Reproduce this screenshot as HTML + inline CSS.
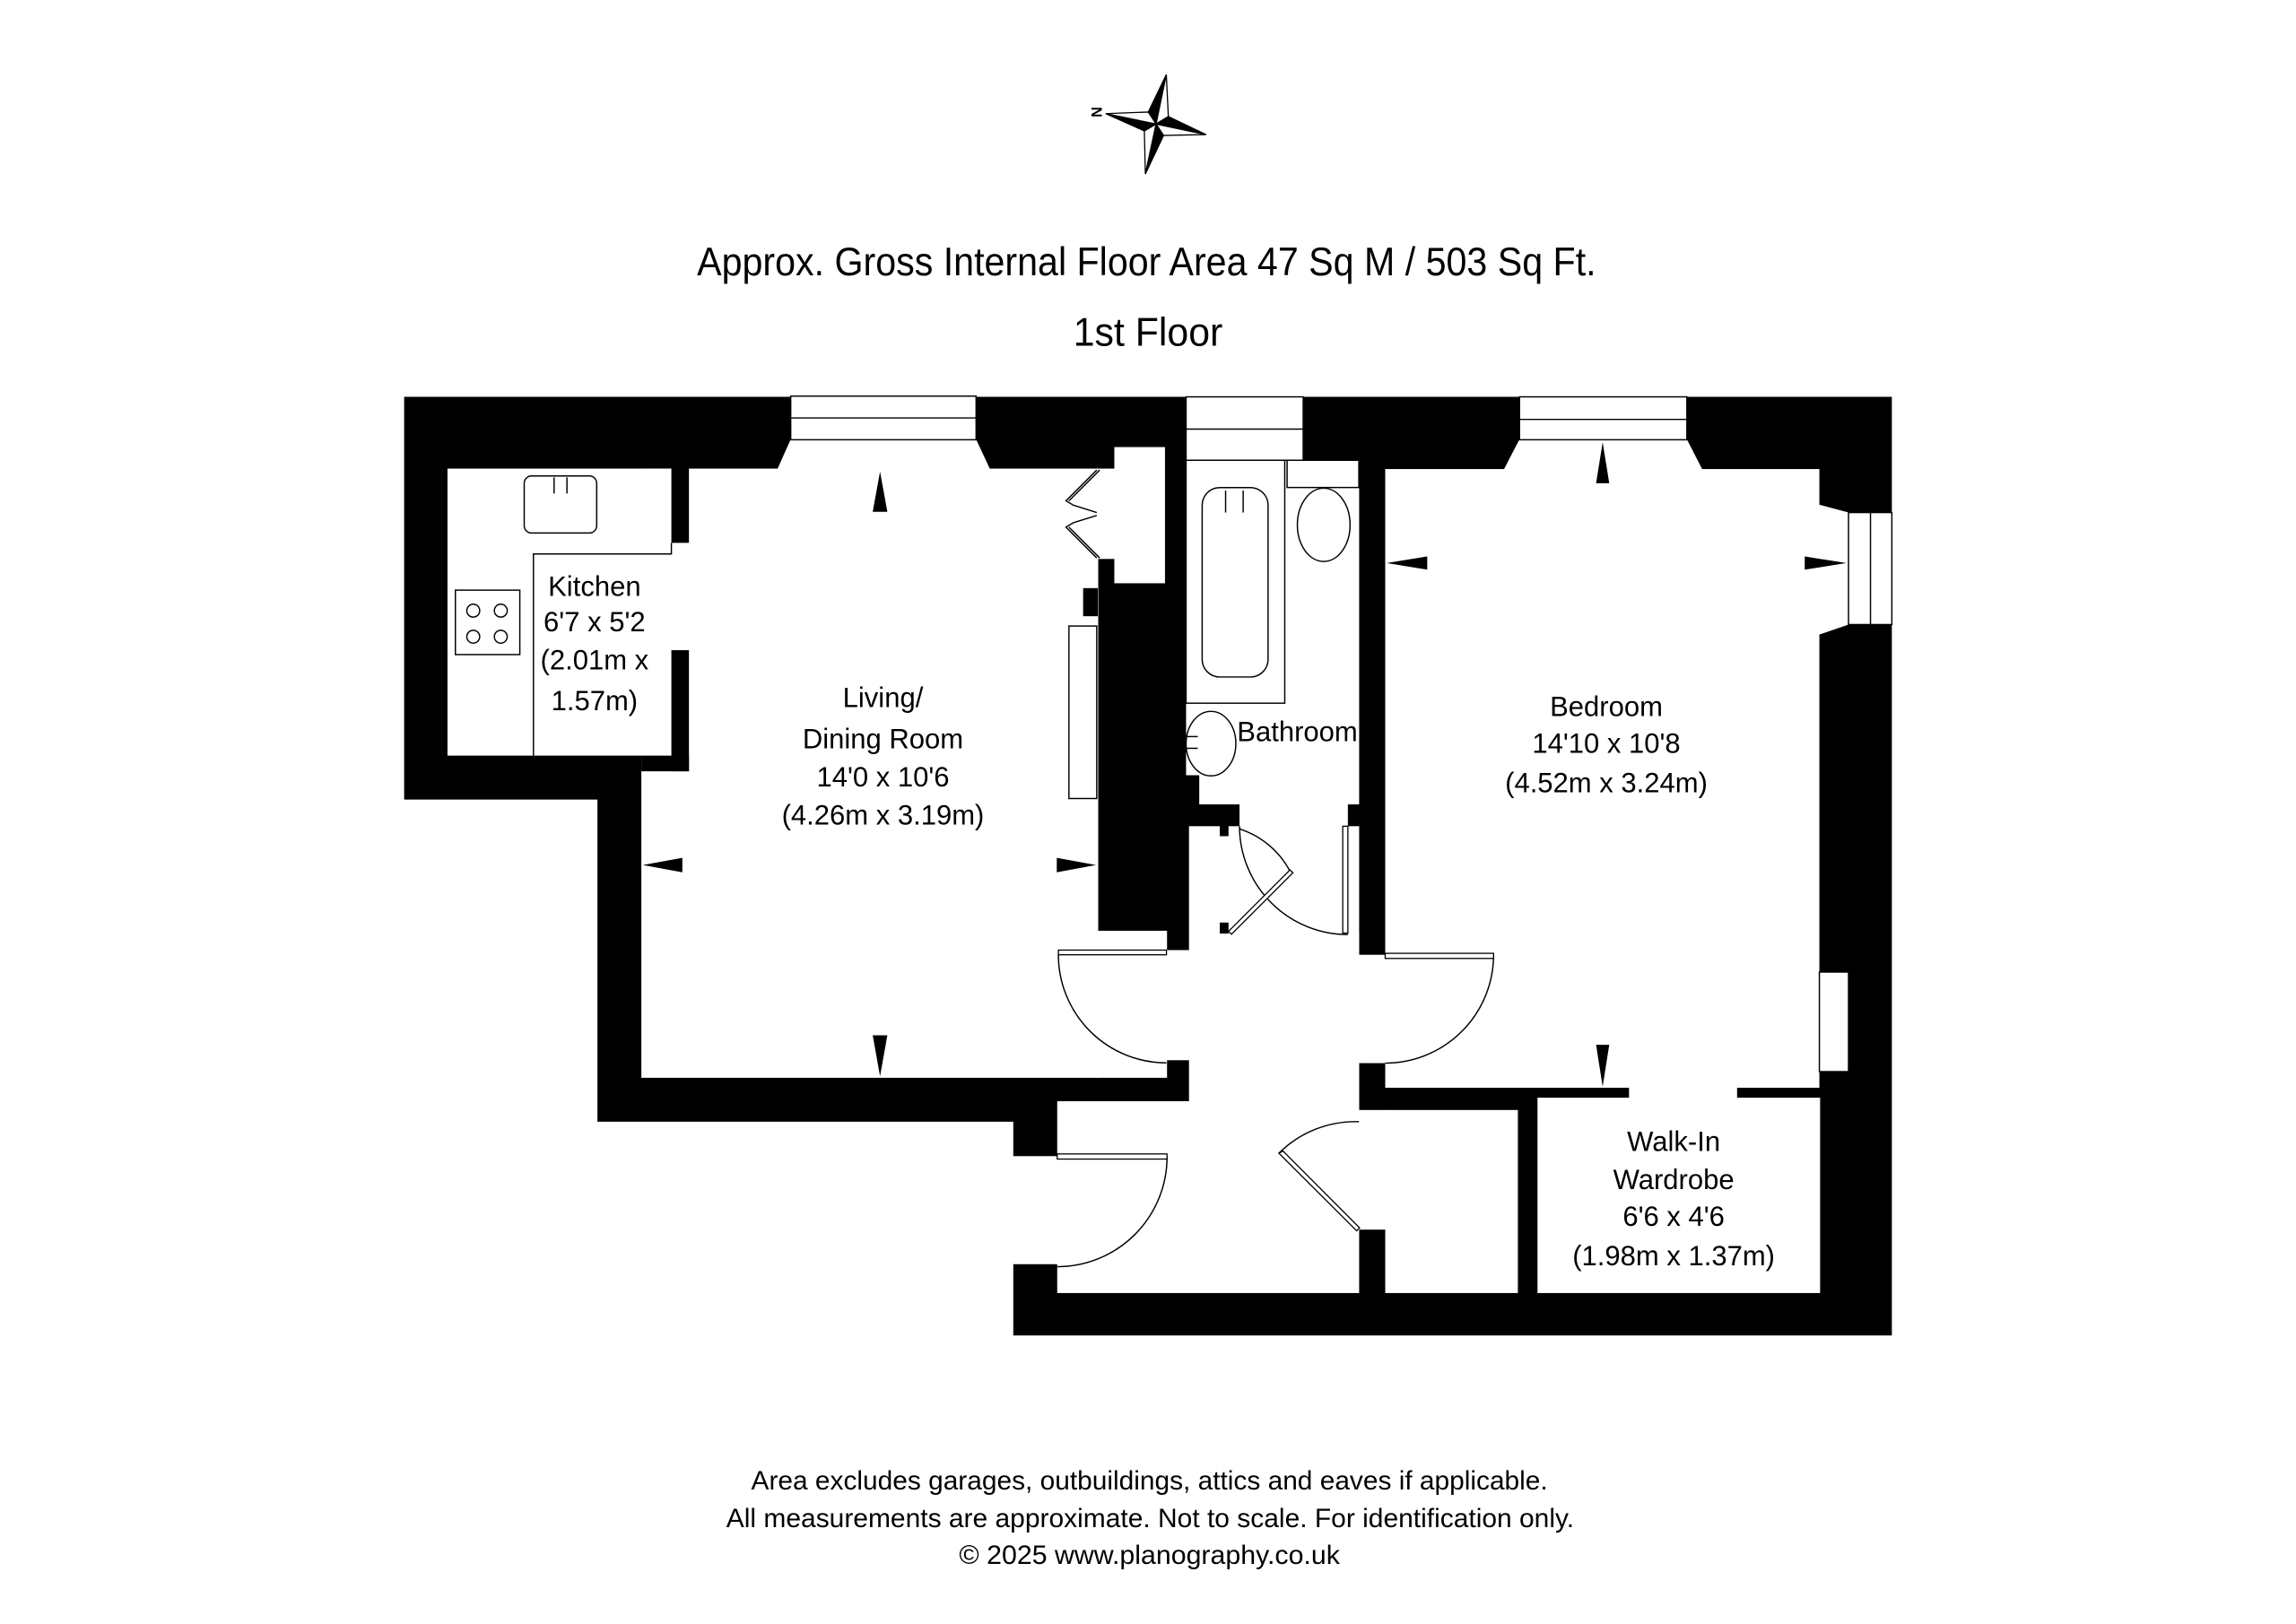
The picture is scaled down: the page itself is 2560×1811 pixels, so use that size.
<!DOCTYPE html>
<html><head><meta charset="utf-8"><style>
html,body{margin:0;padding:0;background:#fff;}
svg{display:block;}
text{font-family:"Liberation Sans Narrow","Liberation Sans",sans-serif;fill:#000;}
</style></head><body>
<svg width="2560" height="1811" viewBox="0 0 1568 1109" preserveAspectRatio="none" xmlns="http://www.w3.org/2000/svg">
<rect width="1568" height="1109" fill="#fff"/>
<g stroke="#000" stroke-width="0.8" stroke-linejoin="miter">
<polygon points="789.5,84.7 796.5,51 784.2,76.5" fill="#000"/>
<polygon points="789.5,84.7 796.5,51 797.9,79.6" fill="#fff"/>
<polygon points="789.5,84.7 823.6,91.9 797.9,79.6" fill="#000"/>
<polygon points="789.5,84.7 823.6,91.9 794.6,92.5" fill="#fff"/>
<polygon points="789.5,84.7 782.2,118.8 794.6,92.5" fill="#000"/>
<polygon points="789.5,84.7 782.2,118.8 781.5,89.4" fill="#fff"/>
<polygon points="789.5,84.7 755.2,77.6 781.5,89.4" fill="#000"/>
<polygon points="789.5,84.7 755.2,77.6 784.2,76.5" fill="#fff"/>
</g>
<text x="749" y="76.5" font-size="10" font-weight="bold" text-anchor="middle" transform="rotate(-90 749 76.5) translate(0 3.5)">N</text>

<text x="476" y="188" font-size="27" textLength="614" lengthAdjust="spacingAndGlyphs">Approx. Gross Internal Floor Area 47 Sq M / 503 Sq Ft.</text>
<text x="733" y="236" font-size="27" textLength="102" lengthAdjust="spacingAndGlyphs">1st Floor</text>

<polygon points="276,271 1292,271 1292,912 692,912 692,766 408,766 408,546 276,546" fill="#000"/>
<g fill="#fff">
<rect x="305.6" y="320" width="164.9" height="196"/>
<rect x="438" y="320" width="312" height="416"/>
<rect x="748.5" y="320" width="13.5" height="61.7"/>
<rect x="761" y="305.3" width="34.6" height="93"/>
<rect x="748.5" y="635.6" width="48.5" height="100.4"/>
<rect x="796" y="648.8" width="17" height="75.2"/>
<rect x="839" y="564.2" width="89.2" height="194"/>
<rect x="812" y="637" width="116.2" height="121"/>
<rect x="722" y="752" width="206.2" height="131"/>
<rect x="690.5" y="789.5" width="32" height="73.8"/>
<rect x="927.5" y="652" width="19" height="74"/>
<rect x="927.5" y="758" width="19" height="81.7"/>
<rect x="810" y="314.3" width="118.2" height="235"/>
<rect x="846.5" y="548" width="74" height="17"/>
<rect x="812" y="564.2" width="27.5" height="73"/>
<rect x="946" y="320.3" width="296.5" height="422.5"/>
<rect x="1112.5" y="742" width="73.8" height="8"/>
<rect x="946" y="758" width="90.6" height="125"/>
<rect x="1050" y="749.6" width="193" height="133.4"/>
<polygon points="540,300 666.6,300 676.4,321 530.6,321"/>
<polygon points="1037.7,300 1152,300 1162.8,321 1026.8,321"/>
<polygon points="1242,344.5 1262.4,350 1262.4,426.5 1242,433.5"/>
</g>
<g fill="#000">
<rect x="458.5" y="319" width="12" height="51.7"/>
<rect x="458.5" y="444" width="12" height="82.7"/>
<rect x="438" y="516" width="32.5" height="10.7"/>
<rect x="739.7" y="401.6" width="10" height="19.2"/>
<rect x="809" y="529.4" width="10" height="20"/>
<rect x="833" y="564" width="6" height="7"/>
<rect x="833" y="630" width="6" height="7.5"/>
</g>
<g fill="#fff" stroke="#000" stroke-width="0.9">
<rect x="540" y="270.5" width="126.6" height="29.8"/>
<rect x="1037.7" y="271" width="114.3" height="29.3"/>
<rect x="810" y="271" width="80" height="43.3"/>
<rect x="1262.4" y="350" width="29.6" height="76.5"/>
<rect x="1242.5" y="663.8" width="19.9" height="68"/>
<rect x="730" y="427.5" width="19" height="117.8"/>
</g>
<g stroke="#000" stroke-width="0.9" fill="none">
<line x1="540" y1="285.4" x2="666.6" y2="285.4"/>
<line x1="1037.7" y1="286.4" x2="1152" y2="286.4"/>
<line x1="810" y1="293" x2="890" y2="293"/>
<line x1="1277.4" y1="350" x2="1277.4" y2="426.5"/>
<polyline points="458.5,370.7 458.5,378.3 364.3,378.3 364.3,516"/>
<rect x="358" y="325" width="49.5" height="39" rx="5"/>
<line x1="378.4" y1="326" x2="378.4" y2="337"/>
<line x1="387.2" y1="326" x2="387.2" y2="337"/>
<rect x="311" y="403" width="44" height="44"/>
<circle cx="323.2" cy="417" r="4.4"/><circle cx="342" cy="417" r="4.4"/>
<circle cx="323.2" cy="434.8" r="4.4"/><circle cx="342" cy="434.8" r="4.4"/>
<polyline points="749,321 728,342 733,345 749,350"/>
<polyline points="749,352 733,357 728,360 749,381"/>
<polyline points="751,321 730,342"/>
<polyline points="751,381 730,360"/>
<rect x="810" y="314.3" width="67.4" height="165.9"/>
<rect x="821" y="333" width="45" height="129.3" rx="12"/>
<line x1="837" y1="335" x2="837" y2="350"/>
<line x1="849" y1="335" x2="849" y2="350"/>
<rect x="879" y="314.3" width="49" height="18.6"/>
<ellipse cx="904" cy="358.4" rx="18" ry="25"/>
<ellipse cx="827" cy="507.8" rx="17" ry="22"/>
<line x1="810" y1="503" x2="818" y2="503"/>
<line x1="810" y1="511" x2="818" y2="511"/>
<path d="M722.8,652 A73.8,73.8 0 0 0 796.6,725.8"/>
<path d="M1020,652 A74,74 0 0 1 946,726"/>
<path d="M797,790 A75,75 0 0 1 722,865"/>
<path d="M928,766 A74,74 0 0 0 873.4,787.5"/>
<path d="M846.5,564.2 A74,74 0 0 0 920.5,638.2"/>
<path d="M846.5,566 A60,60 0 0 1 881,595"/>
</g>
<g fill="#fff" stroke="#000" stroke-width="0.8">
<rect x="722.8" y="648.8" width="73.8" height="3.2"/>
<rect x="946" y="651" width="74" height="3.5"/>
<rect x="722" y="788" width="75" height="3.5"/>
<rect x="917" y="564.2" width="3.5" height="73"/>
<polygon points="873.4,787.5 876.2,786 928.5,838.5 926.5,840.5"/>
<polygon points="839,636 881,594 883,596 841,638"/>
</g>
<g fill="#000">
<polygon points="601,322 596,349.5 606,349.5"/>
<polygon points="601,735 596,707 606,707"/>
<polygon points="439,590.7 466,585.8 466,595.7"/>
<polygon points="748.5,590.7 721.7,585.8 721.7,595.7"/>
<polygon points="1094.5,302 1090,330 1099,330"/>
<polygon points="1094.5,742 1090,713.5 1099,713.5"/>
<polygon points="947,384.5 974.7,380 974.7,389"/>
<polygon points="1261,384.5 1232.5,380 1232.5,389"/>
</g>
<g font-size="19" text-anchor="middle">
<text x="406" y="407">Kitchen</text>
<text x="406" y="431">6'7 x 5'2</text>
<text x="406" y="457">(2.01m x</text>
<text x="406" y="485">1.57m)</text>
<text x="603" y="483">Living/</text>
<text x="603" y="511">Dining Room</text>
<text x="603" y="537">14'0 x 10'6</text>
<text x="603" y="563">(4.26m x 3.19m)</text>
<text x="886" y="506">Bathroom</text>
<text x="1097" y="489">Bedroom</text>
<text x="1097" y="514">14'10 x 10'8</text>
<text x="1097" y="541">(4.52m x 3.24m)</text>
<text x="1143" y="786">Walk-In</text>
<text x="1143" y="812">Wardrobe</text>
<text x="1143" y="837">6'6 x 4'6</text>
<text x="1143" y="864">(1.98m x 1.37m)</text>
</g>
<g font-size="18">
<text x="513" y="1017" textLength="544" lengthAdjust="spacingAndGlyphs">Area excludes garages, outbuildings, attics and eaves if applicable.</text>
<text x="496" y="1043" textLength="579" lengthAdjust="spacingAndGlyphs">All measurements are approximate. Not to scale. For identification only.</text>
<text x="655" y="1068" textLength="260" lengthAdjust="spacingAndGlyphs">© 2025 www.planography.co.uk</text>
</g>
</svg>
</body></html>
